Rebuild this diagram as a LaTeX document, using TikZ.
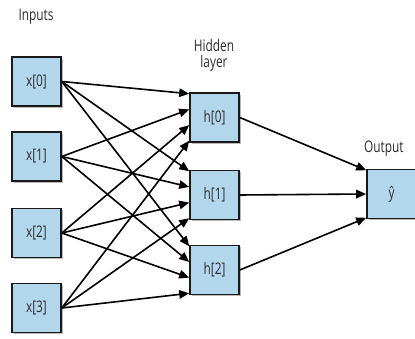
\documentclass[tikz,border=0pt]{standalone}
\usepackage{fontspec}
\setmainfont{Open Sans}[FakeStretch=0.74]
\usetikzlibrary{arrows.meta,calc,shadows}
\definecolor{boxblue}{RGB}{178,214,236}
\definecolor{txt}{RGB}{45,45,45}
\begin{document}
\begin{tikzpicture}[x=1pt,y=-1pt,
  unit/.style={draw=black!90,line width=1.6pt,fill=boxblue,minimum width=49pt,minimum height=49pt,inner sep=0pt,
    font=\fontsize{16}{16}\selectfont,text=txt,
    drop shadow={shadow xshift=1.8pt,shadow yshift=-1.8pt,fill=black!45,opacity=0.6}},
  lbl/.style={font=\fontsize{16}{16}\selectfont,text=txt,align=center,inner sep=0pt},
  arr/.style={line width=1.6pt,-{Triangle[length=10pt,width=8.5pt]}}]
\useasboundingbox (0,0) rectangle (415,339);
\fill[white] (0,0) rectangle (415,339);
\node[lbl] (lin) at (36,17) {Inputs};
\node[lbl] (lhid) at (214,55) {Hidden\\layer};
\node[lbl,anchor=west] (lout) at (364,149) {Output};
\node[unit] (x0) at (36.5,81.5) {x[0]};
\node[unit] (x1) at (36.5,156.5) {x[1]};
\node[unit] (x2) at (36.5,233) {x[2]};
\node[unit] (x3) at (36.5,308) {x[3]};
\node[unit] (h0) at (214.5,117.5) {h[0]};
\node[unit] (h1) at (214.5,195) {h[1]};
\node[unit] (h2) at (214.5,270) {h[2]};
\node[unit] (y) at (391.5,194) {ŷ};
\foreach \i/\f in {0/0.03,1/0.34,2/0.65,3/0.96}{
  \foreach \j in {0,1,2}{
    \draw[arr] (x\i.east) -- ($(h\j.north west)!\f!(h\j.south west)$);
  }
}
\draw[arr] (h0.east) -- ($(y.north west)!0.03!(y.south west)$);
\draw[arr] (h1.east) -- (y.west);
\draw[arr] (h2.east) -- ($(y.north west)!0.97!(y.south west)$);
\end{tikzpicture}
\end{document}
